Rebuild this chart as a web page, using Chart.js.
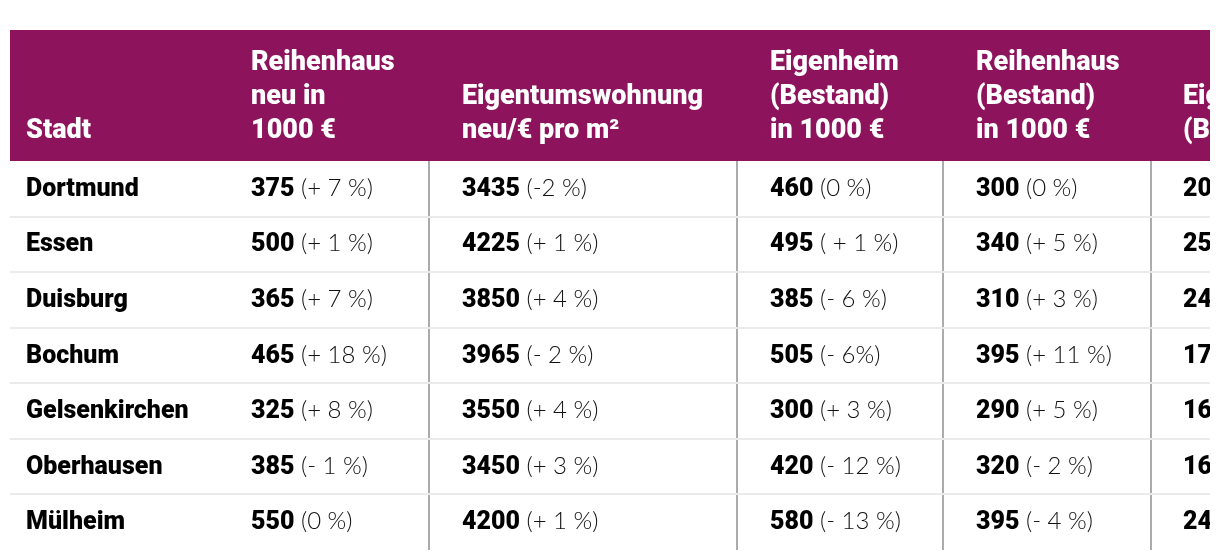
<!DOCTYPE html>
<html>
<head>
<meta charset="utf-8">
<script src="https://cdn.jsdelivr.net/npm/chart.js@4.4.1/dist/chart.umd.min.js"></script>
<style>
  body { margin: 0; background: #fff; }
</style>
</head>
<body>
<canvas id="myChart" width="1220" height="560"></canvas>
<script>
// table data
var cities = ['Dortmund', 'Essen', 'Duisburg', 'Bochum', 'Gelsenkirchen', 'Oberhausen', 'Mülheim'];

var headers = [
    ['Stadt'],
    ['Reihenhaus', 'neu in', '1000 €'],
    ['Eigentumswohnung', 'neu/€ pro m²'],
    ['Eigenheim', '(Bestand)', 'in 1000 €'],
    ['Reihenhaus', '(Bestand)', 'in 1000 €'],
    ['Eigentumswohnung', '(Bestand)/€ pro m²']
];

var reihenhausNeu = [375, 500, 365, 465, 325, 385, 550];
var reihenhausNeuChange = ['(+ 7 %)', '(+ 1 %)', '(+ 7 %)', '(+ 18 %)', '(+ 8 %)', '(- 1 %)', '(0 %)'];

var wohnungNeu = [3435, 4225, 3850, 3965, 3550, 3450, 4200];
var wohnungNeuChange = ['(-2 %)', '(+ 1 %)', '(+ 4 %)', '(- 2 %)', '(+ 4 %)', '(+ 3 %)', '(+ 1 %)'];

var eigenheimBestand = [460, 495, 385, 505, 300, 420, 580];
var eigenheimBestandChange = ['(0 %)', '( + 1 %)', '(- 6 %)', '(- 6%)', '(+ 3 %)', '(- 12 %)', '(- 13 %)'];

var reihenhausBestand = [300, 340, 310, 395, 290, 320, 395];
var reihenhausBestandChange = ['(0 %)', '(+ 5 %)', '(+ 3 %)', '(+ 11 %)', '(+ 5 %)', '(- 2 %)', '(- 4 %)'];

// last column is cut off in the picture, only the first digits show
var wohnungBestand = [2050, 2500, 2400, 1750, 1650, 1600, 2400];
var wohnungBestandChange = ['(+ 2 %)', '(+ 1 %)', '(+ 3 %)', '(0 %)', '(+ 2 %)', '(- 1 %)', '(+ 1 %)'];

// layout (x scale units = px inside the table)
var colX = [16, 241, 452, 760, 966, 1173];
var colEdges = [419, 727, 933, 1141];
var HEADER_TOP = 30;

var boldCols = [cities, reihenhausNeu, wohnungNeu, eigenheimBestand, reihenhausBestand, wohnungBestand];
var lightCols = [null, reihenhausNeuChange, wohnungNeuChange, eigenheimBestandChange, reihenhausBestandChange, wohnungBestandChange];

var tablePlugin = {
    id: 'tableText',
    afterDatasetsDraw: function (chart) {
        var ctx = chart.ctx;
        var a = chart.chartArea;
        var xs = chart.scales.x;
        ctx.save();
        ctx.beginPath();
        ctx.rect(a.left, 0, a.right - a.left, chart.height);
        ctx.clip();

        // header band
        ctx.fillStyle = '#8d135c';
        ctx.fillRect(a.left, HEADER_TOP, a.right - a.left, a.top - HEADER_TOP);
        ctx.fillStyle = '#ffffff';
        ctx.font = '900 27px Roboto';
        ctx.textBaseline = 'alphabetic';
        ctx.textAlign = 'left';
        headers.forEach(function (lines, c) {
            var px = xs.getPixelForValue(colX[c]);
            lines.forEach(function (t, k) {
                ctx.fillText(t, px, a.top - 23 - (lines.length - 1 - k) * 34);
            });
        });

        // cells
        chart.data.datasets.forEach(function (ds, c) {
            var meta = chart.getDatasetMeta(c);
            meta.data.forEach(function (pt, i) {
                var base = pt.y + 7;
                var strong = String(boldCols[c][i]);
                ctx.font = '900 25px Roboto';
                ctx.fillStyle = '#000000';
                ctx.fillText(strong, pt.x, base);
                if (lightCols[c]) {
                    var w = ctx.measureText(strong).width;
                    ctx.font = '300 24px Lato';
                    ctx.fillStyle = '#111111';
                    ctx.fillText(' ' + lightCols[c][i], pt.x + w, base);
                }
            });
        });
        ctx.restore();
    }
};

var datasets = boldCols.map(function (col, c) {
    return {
        label: headers[c].join(' '),
        data: cities.map(function (city) { return { x: colX[c], y: city }; }),
        pointRadius: 0,
        pointHoverRadius: 0
    };
});

var ctx = document.getElementById('myChart').getContext('2d');
var myChart = new Chart(ctx, {
    type: 'scatter',
    data: { datasets: datasets },
    options: {
        responsive: false,
        animation: false,
        events: [],
        layout: { padding: { top: 161, left: 10, right: 10, bottom: 10 } },
        plugins: {
            legend: { display: false },
            tooltip: { enabled: false }
        },
        scales: {
            x: {
                type: 'linear',
                min: 0,
                max: 1200,
                afterBuildTicks: function (scale) {
                    scale.ticks = colEdges.map(function (v) { return { value: v }; });
                },
                ticks: { display: false },
                border: { display: false },
                grid: { color: '#ababab', lineWidth: 2, drawTicks: false }
            },
            y: {
                type: 'category',
                labels: cities,
                offset: true,
                ticks: { display: false },
                border: { display: false },
                grid: {
                    offset: true,
                    drawTicks: false,
                    lineWidth: 2,
                    color: function (c) {
                        return c.type === 'tick' && c.index > 0 ? '#ebebeb' : 'rgba(0,0,0,0)';
                    }
                }
            }
        }
    },
    plugins: [tablePlugin]
});
</script>
</body>
</html>
